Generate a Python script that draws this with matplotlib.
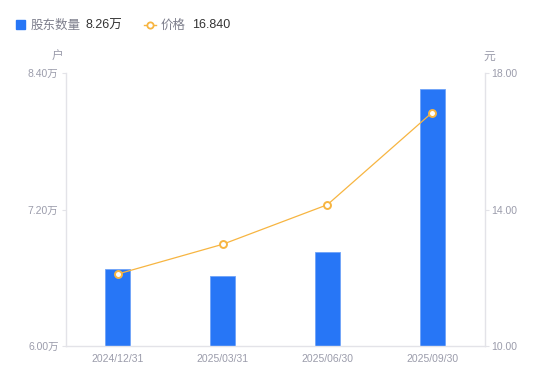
import matplotlib
matplotlib.use("Agg")
import matplotlib.pyplot as plt
from matplotlib.patches import Rectangle
from matplotlib.lines import Line2D
import numpy as np

# latin glyphs from Liberation Sans, CJK from Noto
plt.rcParams['font.family'] = ['Liberation Sans', 'Noto Sans CJK SC', 'DejaVu Sans']

# data
dates = ["2024/12/31", "2025/03/31", "2025/06/30", "2025/09/30"]
holders = [6.675, 6.615, 6.826, 8.26]      # 万户
price = [12.11, 12.98, 14.14, 16.84]       # 元
left_ticks = [6.00, 7.20, 8.40]
right_ticks = [10.00, 14.00, 18.00]

BLUE = "#2776f6"
ORANGE = "#f7b541"
GRAY = "#9b9cab"
AXIS = "#e3e3e8"

fig = plt.figure(figsize=(5.5, 3.81), dpi=100)
ax = fig.add_axes([65.5 / 550, 35 / 381, 419 / 550, 273 / 381])
ax2 = ax.twinx()

x = np.arange(len(dates))
ax.bar(x, holders, width=25 / 105, color=BLUE, edgecolor="#6fa3f8",
       linewidth=0.6, zorder=2)
ax2.plot(x, price, color=ORANGE, linewidth=0.9, marker="o", markersize=5,
         markerfacecolor="white", markeredgecolor=ORANGE, markeredgewidth=1.4,
         zorder=3)

ax.set_xlim(-0.5, len(dates) - 0.5)
ax.set_ylim(left_ticks[0], left_ticks[-1])
ax2.set_ylim(right_ticks[0], right_ticks[-1])

ax.set_yticks(left_ticks)
ax.set_yticklabels(["{:.2f}万".format(v) for v in left_ticks])
ax2.set_yticks(right_ticks)
ax2.set_yticklabels(["{:.2f}".format(v) for v in right_ticks])
ax.set_xticks(x)
ax.set_xticklabels(dates)

for a in (ax, ax2):
    for s in a.spines.values():
        s.set_visible(False)
ax.spines["left"].set_visible(True)
ax.spines["bottom"].set_visible(True)
ax2.spines["right"].set_visible(True)
for s in (ax.spines["left"], ax.spines["bottom"], ax2.spines["right"]):
    s.set_color(AXIS)
    s.set_linewidth(1.0)

ax.tick_params(axis="y", length=3, width=0.8, color=AXIS, labelcolor=GRAY,
               labelsize=7.5, pad=2)
ax.tick_params(axis="x", length=0, labelcolor=GRAY, labelsize=7.5, pad=6)
ax2.tick_params(axis="y", length=3, width=0.8, color=AXIS, labelcolor=GRAY,
                labelsize=7.5, pad=2)

# unit labels
fig.text(58 / 550, 1 - 57 / 381, "户", color=GRAY, fontsize=8.5,
         ha="center", va="center")
fig.text(489 / 550, 1 - 57 / 381, "元", color=GRAY, fontsize=8.5,
         ha="center", va="center")

# legend row
ly = 1 - 25.5 / 381
fig.patches.append(Rectangle((16 / 550, 1 - 29 / 381), 9 / 550, 9 / 381,
                             transform=fig.transFigure, color=BLUE))
fig.text(31 / 550, ly, "股东数量", color="#7d7e8c", fontsize=9,
         va="center")
fig.text(85 / 550, ly, "{:.2f}万".format(holders[-1]),
         color="#333333", fontsize=9, va="center")
fig.lines.append(Line2D([144 / 550, 156 / 550], [1 - 24.5 / 381] * 2,
                        transform=fig.transFigure, color=ORANGE,
                        linewidth=1.0))
fig.lines.append(Line2D([150 / 550], [1 - 24.5 / 381],
                        transform=fig.transFigure, color=ORANGE,
                        marker="o", markersize=4.5, markerfacecolor="white",
                        markeredgecolor=ORANGE, markeredgewidth=1.3))
fig.text(161 / 550, ly, "价格", color="#7d7e8c", fontsize=9,
         va="center")
fig.text(192 / 550, ly, "{:.3f}".format(price[-1]),
         color="#333333", fontsize=9, va="center")

fig.savefig("out.png", dpi=100)
